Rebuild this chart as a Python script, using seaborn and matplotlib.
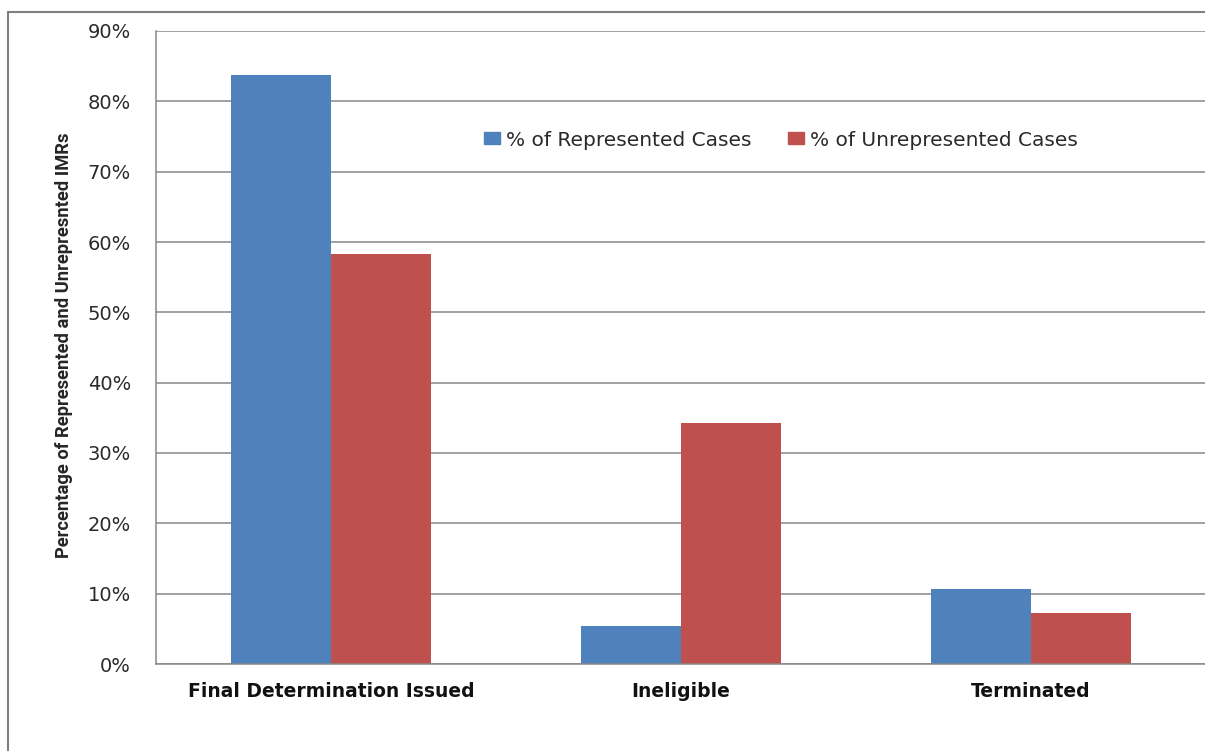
import matplotlib
matplotlib.use("Agg")
import matplotlib.pyplot as plt
import matplotlib.patches as mpatches
import matplotlib.font_manager as fm
import seaborn as sns
import pandas as pd
from matplotlib.ticker import FuncFormatter, MultipleLocator

categories = ["Final Determination Issued", "Ineligible", "Terminated"]
series_names = ["% of Represented Cases", "% of Unrepresented Cases"]
represented = [83.8, 5.4, 10.6]
unrepresented = [58.3, 34.3, 7.25]
colors = ["#4F81BD", "#C0504D"]
y_label = "Percentage of Represented and Unrepresnted IMRs"

df = pd.DataFrame({
    "category": categories * 2,
    "series": [series_names[0]] * 3 + [series_names[1]] * 3,
    "value": represented + unrepresented,
})

sns.set_theme(style="white")
installed = {f.name for f in fm.fontManager.ttflist}
plt.rcParams["font.family"] = ["DejaVu Sans"]
narrow = "Liberation Sans Narrow" if "Liberation Sans Narrow" in installed else "Roboto"

fig = plt.figure(figsize=(12.05, 7.51), dpi=100)
ax = fig.add_axes([156 / 1205, 1 - 664 / 751, 1050 / 1205, 633 / 751])

sns.barplot(data=df, x="category", y="value", hue="series", order=categories,
            hue_order=series_names, palette=colors, width=0.572, gap=0,
            saturation=1, ax=ax, legend=True, linewidth=0)

ax.set_xlim(-0.5, 2.5)
ax.set_ylim(0, 90)
ax.yaxis.set_major_locator(MultipleLocator(10))
ax.yaxis.set_major_formatter(FuncFormatter(lambda v, p: f"{v:.0f}%"))
ax.set_axisbelow(True)
ax.grid(axis="y", color="#878787", linewidth=1.1)
ax.grid(axis="x", visible=False)

for side in ["top", "right"]:
    ax.spines[side].set_visible(False)
for side in ["left", "bottom"]:
    ax.spines[side].set_color("#878787")
    ax.spines[side].set_linewidth(1.1)

# category labels centred, tick marks at the category boundaries
ax.set_xticks([0, 1, 2])
ax.set_xticklabels(categories, fontweight="bold", fontsize=13.5, color="#111111")
ax.tick_params(axis="x", length=0, pad=13)
ax.set_xticks([-0.5, 0.5, 1.5, 2.5], minor=True)
ax.tick_params(axis="x", which="minor", length=7, color="#878787", width=1.1, direction="out")
ax.tick_params(axis="y", length=10, color="#878787", width=1.1, direction="out",
               labelsize=14, labelcolor="#2a2a2a", pad=8)
ax.set_xlabel("")
ax.set_ylabel("")

fig.text(64 / 1205, 1 - 345 / 751, y_label, rotation=90, ha="center", va="center",
         fontsize=13.2, fontweight="bold", family=[narrow, "DejaVu Sans"])

handles = [mpatches.Patch(color=c) for c in colors]
ax.legend(handles, series_names, ncol=2, frameon=False, loc="center left",
          bbox_to_anchor=(466 / 1205, 1 - 140 / 751), bbox_transform=fig.transFigure,
          fontsize=14.5, handlelength=0.8, handleheight=0.55, handletextpad=0.3,
          columnspacing=1.8, labelcolor="#2a2a2a")

# outer chart frame
fig.patches.append(mpatches.Rectangle((8 / 1205, -0.1), 1.2, 1 - 12 / 751 + 0.1,
                                      transform=fig.transFigure, fill=False,
                                      edgecolor="#7f7f7f", linewidth=1.5))

fig.savefig("out.png", dpi=100)
